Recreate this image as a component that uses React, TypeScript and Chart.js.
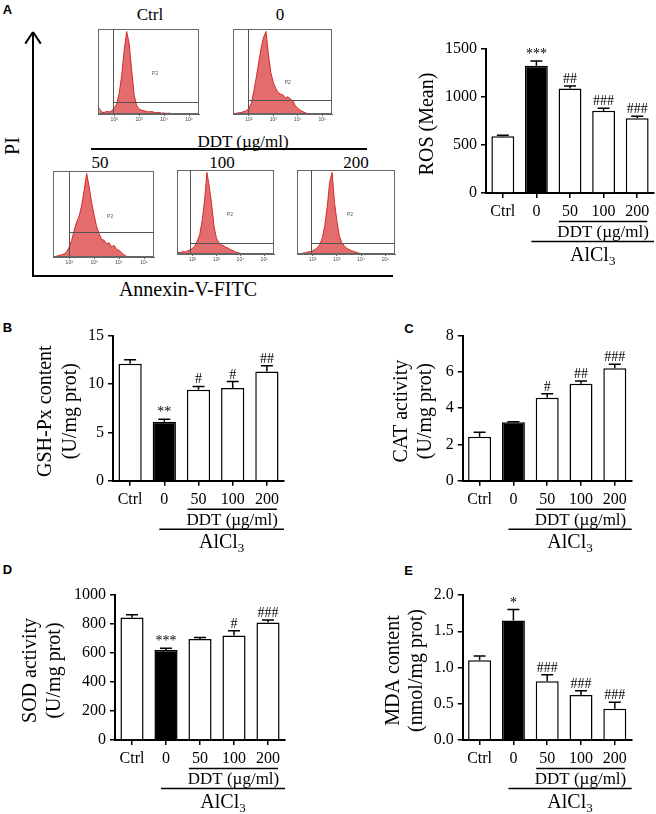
import React, { useEffect, useRef } from 'react';
import { Chart, registerables } from 'chart.js';
Chart.register(...registerables);

const SERIF = '"Liberation Serif", "Times New Roman", serif';
const SANS = '"Liberation Sans", Arial, sans-serif';
Chart.defaults.font.family = SERIF;
Chart.defaults.font.size = 16;
Chart.defaults.color = '#000';

// ---------- data ----------
const GROUPS = ['Ctrl', '0', '50', '100', '200'];
const BAR_FILLS = ['#ffffff', '#000000', '#ffffff', '#ffffff', '#ffffff'];

const ROS_MEAN = [590, 1325, 1088, 858, 778];
const ROS_SEM = [12, 50, 27, 24, 21];
const ROS_MARKS = ['', '***', '##', '###', '###'];

const GSH_MEAN = [12.1, 6.1, 9.4, 9.6, 11.3];
const GSH_SEM = [0.4, 0.25, 0.35, 0.65, 0.6];
const GSH_MARKS = ['', '**', '#', '#', '##'];

const CAT_MEAN = [2.43, 3.22, 4.58, 5.35, 6.2];
const CAT_SEM = [0.24, 0.03, 0.22, 0.15, 0.22];
const CAT_MARKS = ['', '', '#', '##', '###'];

const SOD_MEAN = [845, 620, 697, 720, 810];
const SOD_SEM = [18, 12, 10, 33, 18];
const SOD_MARKS = ['', '***', '', '#', '###'];

const MDA_MEAN = [1.1, 1.65, 0.81, 0.62, 0.43];
const MDA_SEM = [0.06, 0.15, 0.09, 0.06, 0.09];
const MDA_MARKS = ['', '*', '###', '###', '###'];

// flow cytometry histograms (log10 fluorescence bins, relative counts)
const HIST_LOG = [1.4, 1.5, 1.6, 1.7, 1.8, 1.9, 2.0, 2.1, 2.2, 2.3, 2.4, 2.5, 2.6, 2.7, 2.8, 2.9, 3.0, 3.1, 3.2, 3.3, 3.4, 3.5, 3.6, 3.7, 3.8, 3.9, 4.0, 4.1, 4.2, 4.3, 4.4, 4.5, 4.6];
const HIST_CTRL = [0.07, 0.02, 0.02, 0.03, 0.025, 0.04, 0.07, 0.12, 0.25, 0.47, 0.77, 1.0, 0.85, 0.53, 0.23, 0.1, 0.06, 0.045, 0.04, 0.03, 0.025, 0.03, 0.02, 0.015, 0.02, 0.01, 0.012, 0.008, 0.01, 0.005, 0.004, 0.002, 0];
const HIST_0 = [0, 0.01, 0.015, 0.02, 0.03, 0.04, 0.07, 0.13, 0.27, 0.44, 0.62, 0.8, 0.93, 1.0, 0.72, 0.5, 0.38, 0.31, 0.26, 0.24, 0.23, 0.19, 0.21, 0.18, 0.16, 0.1, 0.07, 0.045, 0.03, 0.015, 0.005, 0, 0];
const HIST_50 = [0, 0.01, 0.02, 0.025, 0.04, 0.06, 0.12, 0.2, 0.32, 0.42, 0.49, 0.62, 0.8, 1.0, 0.84, 0.65, 0.5, 0.36, 0.28, 0.21, 0.2, 0.16, 0.17, 0.12, 0.14, 0.09, 0.08, 0.05, 0.025, 0.008, 0, 0, 0];
const HIST_100 = [0.02, 0.015, 0.03, 0.025, 0.04, 0.05, 0.07, 0.1, 0.16, 0.24, 0.41, 0.65, 1.0, 0.82, 0.6, 0.33, 0.19, 0.14, 0.11, 0.1, 0.08, 0.07, 0.05, 0.04, 0.025, 0.015, 0.008, 0.003, 0, 0, 0, 0, 0];
const HIST_200 = [0, 0.005, 0.01, 0.015, 0.025, 0.03, 0.04, 0.055, 0.08, 0.12, 0.2, 0.35, 0.58, 0.88, 1.0, 0.63, 0.4, 0.22, 0.14, 0.1, 0.07, 0.055, 0.04, 0.03, 0.02, 0.012, 0.006, 0.002, 0, 0, 0, 0, 0];
const HIST_TICKS = [2, 3, 4, 5];
const HIST_TICK_LABELS = ['10²', '10³', '10⁴', '10⁵'];
const GATE_X = [1.97, 1.96, 2.0, 1.9, 1.92];
const GATE_Y = [0.15, 0.17, 0.3, 0.14, 0.14];
const P2_X = [3.64, 3.59, 3.64, 3.56, 3.54];
const P2_Y = [0.49, 0.38, 0.48, 0.48, 0.48];

// ---------- helpers ----------
type Box = { x: number; y: number; w: number; h: number };
type Area = { l: number; t: number; r: number; b: number };

function Label(props: { x: number; y: number; text: React.ReactNode; size: number; rotate?: boolean; bold?: boolean; sans?: boolean }) {
  const { x, y, text, size, rotate, bold, sans } = props;
  return (
    <div
      style={{
        position: 'absolute',
        left: x,
        top: y,
        transform: `translate(-50%,-50%)${rotate ? ' rotate(-90deg)' : ''}`,
        fontSize: size,
        lineHeight: 1,
        whiteSpace: 'nowrap',
        fontFamily: sans ? SANS : SERIF,
        fontWeight: bold ? 700 : 400,
        color: '#000',
      }}
    >
      {text}
    </div>
  );
}

function Line(props: { x: number; y: number; w: number; h: number; rot?: number }) {
  const { x, y, w, h, rot } = props;
  return (
    <div
      style={{
        position: 'absolute',
        left: x,
        top: y,
        width: w,
        height: h,
        background: '#000',
        transformOrigin: 'top center',
        transform: rot ? `rotate(${rot}deg)` : undefined,
      }}
    />
  );
}

type BarProps = {
  box: Box;
  area: Area;
  values: number[];
  errors: number[];
  marks: string[];
  yMax: number;
  yStep: number;
  decimals: number;
  titleLines: string[];
  titleOffsets: number[];
};

function BarPanel(p: BarProps) {
  const ref = useRef<HTMLCanvasElement | null>(null);
  useEffect(() => {
    if (!ref.current) return;
    const { box, area } = p;
    const decor = {
      id: 'decor',
      afterDatasetsDraw(chart: any) {
        const ctx = chart.ctx;
        const ys = chart.scales.y;
        const meta = chart.getDatasetMeta(0);
        ctx.save();
        ctx.strokeStyle = '#000';
        ctx.fillStyle = '#000';
        ctx.lineWidth = 1.5;
        p.values.forEach((v, i) => {
          const x = meta.data[i].x;
          const yb = ys.getPixelForValue(v);
          const yt = ys.getPixelForValue(v + p.errors[i]);
          ctx.beginPath();
          ctx.moveTo(x, yb);
          ctx.lineTo(x, yt);
          ctx.moveTo(x - 6, yt);
          ctx.lineTo(x + 6, yt);
          ctx.stroke();
          if (p.marks[i]) {
            ctx.font = `14px ${SERIF}`;
            ctx.textAlign = 'center';
            ctx.textBaseline = 'alphabetic';
            ctx.fillText(p.marks[i], x, yt - 3);
          }
        });
        ctx.restore();
      },
      afterDraw(chart: any) {
        const ctx = chart.ctx;
        const xs = chart.scales.x;
        const a = chart.chartArea;
        const c1 = xs.getPixelForValue(1);
        const c2 = xs.getPixelForValue(2);
        const c4 = xs.getPixelForValue(4);
        ctx.save();
        ctx.strokeStyle = '#000';
        ctx.fillStyle = '#000';
        ctx.lineWidth = 1.5;
        const dl = c2 - 11;
        const dr = c4 + 10;
        ctx.beginPath();
        ctx.moveTo(dl, a.bottom + 28.5);
        ctx.lineTo(dr, a.bottom + 28.5);
        ctx.stroke();
        ctx.font = `17px ${SERIF}`;
        ctx.textAlign = 'center';
        ctx.textBaseline = 'middle';
        ctx.fillText('DDT (µg/ml)', (dl + dr) / 2, a.bottom + 40);
        const al = c1 - 5;
        const ar = a.right;
        ctx.beginPath();
        ctx.moveTo(al, a.bottom + 48.5);
        ctx.lineTo(ar, a.bottom + 48.5);
        ctx.stroke();
        ctx.font = `20px ${SERIF}`;
        const w1 = ctx.measureText('AlCl').width;
        ctx.font = `13px ${SERIF}`;
        const w2 = ctx.measureText('3').width;
        const sx = (al + ar) / 2 - (w1 + w2) / 2;
        ctx.textAlign = 'left';
        ctx.textBaseline = 'alphabetic';
        ctx.font = `20px ${SERIF}`;
        ctx.fillText('AlCl', sx, a.bottom + 61 + 6.6);
        ctx.font = `13px ${SERIF}`;
        ctx.fillText('3', sx + w1, a.bottom + 61 + 10.6);
        ctx.font = `20px ${SERIF}`;
        ctx.textAlign = 'center';
        ctx.textBaseline = 'middle';
        const cy = (a.top + a.bottom) / 2 + 3;
        p.titleLines.forEach((t, k) => {
          ctx.save();
          ctx.translate(a.left + p.titleOffsets[k], cy);
          ctx.rotate(-Math.PI / 2);
          ctx.fillText(t, 0, 0);
          ctx.restore();
        });
        ctx.restore();
      },
    };
    const chart = new Chart(ref.current, {
      type: 'bar',
      data: {
        labels: GROUPS,
        datasets: [
          {
            data: p.values,
            backgroundColor: BAR_FILLS,
            borderColor: '#000',
            borderWidth: 1.5,
            categoryPercentage: 0.8,
            barPercentage: 0.85,
          },
        ],
      },
      options: {
        animation: false,
        responsive: false,
        maintainAspectRatio: false,
        layout: { padding: { top: area.t - box.y, right: box.x + box.w - area.r, left: 0, bottom: 0 } },
        plugins: { legend: { display: false }, tooltip: { enabled: false } },
        scales: {
          x: {
            type: 'category',
            afterFit: (s: any) => {
              s.height = box.y + box.h - area.b;
            },
            grid: { display: true, drawOnChartArea: false, drawTicks: true, tickLength: 5, offset: false, color: '#000', lineWidth: 1.5 },
            border: { display: true, color: '#000', width: 2 },
            ticks: { color: '#000', font: { family: SERIF, size: 16 }, padding: 4, maxRotation: 0, autoSkip: false },
          },
          y: {
            min: 0,
            max: p.yMax,
            afterFit: (s: any) => {
              s.width = area.l - box.x;
            },
            grid: { display: true, drawOnChartArea: false, drawTicks: true, tickLength: 5, color: '#000', lineWidth: 1.5 },
            border: { display: true, color: '#000', width: 2 },
            ticks: {
              stepSize: p.yStep,
              color: '#000',
              font: { family: SERIF, size: 16 },
              padding: 4,
              callback: (v: any) => Number(v).toFixed(p.decimals),
            },
          },
        },
      },
      plugins: [decor],
    } as any);
    return () => chart.destroy();
  }, []);
  return (
    <canvas
      ref={ref}
      width={p.box.w}
      height={p.box.h}
      style={{ position: 'absolute', left: p.box.x, top: p.box.y, width: p.box.w, height: p.box.h }}
    />
  );
}

type HistProps = { box: Box; area: Area; values: number[]; idx: number };

function HistPanel(p: HistProps) {
  const ref = useRef<HTMLCanvasElement | null>(null);
  useEffect(() => {
    if (!ref.current) return;
    const { box, area, idx } = p;
    const frame = {
      id: 'frame',
      afterDraw(chart: any) {
        const ctx = chart.ctx;
        const a = chart.chartArea;
        const xs = chart.scales.x;
        const ys = chart.scales.y;
        ctx.save();
        ctx.strokeStyle = '#666';
        ctx.lineWidth = 1;
        ctx.strokeRect(a.left + 0.5, a.top + 0.5, a.right - a.left - 1, a.bottom - a.top - 1);
        ctx.strokeStyle = '#555';
        const gx = Math.round(xs.getPixelForValue(GATE_X[idx])) + 0.5;
        const gy = Math.round(ys.getPixelForValue(GATE_Y[idx])) + 0.5;
        ctx.beginPath();
        ctx.moveTo(gx, a.top);
        ctx.lineTo(gx, a.bottom);
        ctx.moveTo(gx, gy);
        ctx.lineTo(a.right, gy);
        ctx.stroke();
        ctx.fillStyle = '#555';
        ctx.font = `5px ${SANS}`;
        ctx.textAlign = 'center';
        ctx.textBaseline = 'middle';
        ctx.fillText('P2', xs.getPixelForValue(P2_X[idx]), ys.getPixelForValue(P2_Y[idx]));
        ctx.restore();
      },
    };
    const chart = new Chart(ref.current, {
      type: 'line',
      data: {
        datasets: [
          {
            data: HIST_LOG.map((x, i) => ({ x, y: p.values[i] })),
            fill: 'origin',
            backgroundColor: 'rgba(224, 92, 92, 0.9)',
            borderColor: '#d42828',
            borderWidth: 1,
            pointRadius: 0,
            tension: 0,
          },
        ],
      },
      options: {
        animation: false,
        responsive: false,
        maintainAspectRatio: false,
        layout: { padding: { top: area.t - box.y, right: box.x + box.w - area.r, left: 0, bottom: 0 } },
        plugins: { legend: { display: false }, tooltip: { enabled: false } },
        scales: {
          x: {
            type: 'linear',
            min: 1.35,
            max: 5.4,
            afterFit: (s: any) => {
              s.height = box.y + box.h - area.b;
            },
            afterBuildTicks: (s: any) => {
              s.ticks = HIST_TICKS.map((v) => ({ value: v }));
            },
            grid: { display: true, drawOnChartArea: false, tickLength: 2, color: '#666' },
            border: { display: true, color: '#666', width: 1 },
            ticks: {
              color: '#444',
              font: { family: SANS, size: 5 },
              padding: 1,
              maxRotation: 0,
              autoSkip: false,
              callback: (v: any, i: number) => HIST_TICK_LABELS[i],
            },
          },
          y: {
            min: 0,
            max: 1.03,
            afterFit: (s: any) => {
              s.width = area.l - box.x;
            },
            grid: { display: false },
            border: { display: true, color: '#666', width: 1 },
            ticks: { display: false },
          },
        },
      },
      plugins: [frame],
    } as any);
    return () => chart.destroy();
  }, []);
  return (
    <canvas
      ref={ref}
      width={p.box.w}
      height={p.box.h}
      style={{ position: 'absolute', left: p.box.x, top: p.box.y, width: p.box.w, height: p.box.h }}
    />
  );
}

export default function App() {
  return (
    <div
      style={{
        position: 'absolute',
        left: 0,
        top: 0,
        width: 656,
        height: 814,
        background: '#fff',
        overflow: 'hidden',
        fontFamily: SERIF,
      }}
    >
      {/* panel letters */}
      <Label x={7.5} y={8.5} text="A" size={13} bold sans />
      <Label x={7.5} y={327} text="B" size={13} bold sans />
      <Label x={409} y={328} text="C" size={13} bold sans />
      <Label x={7.5} y={569} text="D" size={13} bold sans />
      <Label x={408.5} y={569.5} text="E" size={13} bold sans />

      {/* panel A flow cytometry */}
      <Line x={32} y={32} w={2} h={245} />
      <Line x={32} y={32} w={2} h={13.6} rot={33.6} />
      <Line x={32} y={32} w={2} h={13.6} rot={-33.6} />
      <Line x={32} y={275} w={361} h={2} />
      <Label x={12} y={146} text="PI" size={20} rotate />
      <Label x={188} y={289} text="Annexin-V-FITC" size={20} />
      <Label x={150} y={14} text={GROUPS[0]} size={17} />
      <Label x={280} y={14} text={GROUPS[1]} size={17} />
      <Label x={243} y={141} text="DDT (µg/ml)" size={17} />
      <Line x={91} y={147.5} w={276} h={2} />
      <Label x={100} y={162} text={GROUPS[2]} size={17} />
      <Label x={222} y={162} text={GROUPS[3]} size={17} />
      <Label x={356} y={162} text={GROUPS[4]} size={17} />

      <HistPanel idx={0} values={HIST_CTRL} box={{ x: 86, y: 26, w: 118, h: 98 }} area={{ l: 98, t: 29, r: 199, b: 114 }} />
      <HistPanel idx={1} values={HIST_0} box={{ x: 221, y: 26, w: 116, h: 98 }} area={{ l: 233, t: 29, r: 332, b: 114 }} />
      <HistPanel idx={2} values={HIST_50} box={{ x: 41, y: 168, w: 118, h: 99 }} area={{ l: 53, t: 171, r: 154, b: 257 }} />
      <HistPanel idx={3} values={HIST_100} box={{ x: 165, y: 167, w: 114, h: 97 }} area={{ l: 177, t: 170, r: 274, b: 254 }} />
      <HistPanel idx={4} values={HIST_200} box={{ x: 285, y: 167, w: 115, h: 97 }} area={{ l: 297, t: 170, r: 395, b: 254 }} />

      <BarPanel
        box={{ x: 400, y: 20, w: 256, h: 262 }}
        area={{ l: 486, t: 49, r: 654, b: 193 }}
        values={ROS_MEAN}
        errors={ROS_SEM}
        marks={ROS_MARKS}
        yMax={1500}
        yStep={500}
        decimals={0}
        titleLines={['ROS (Mean)']}
        titleOffsets={[-58]}
      />
      <BarPanel
        box={{ x: 0, y: 300, w: 330, h: 258 }}
        area={{ l: 113, t: 335.7, r: 284, b: 480.7 }}
        values={GSH_MEAN}
        errors={GSH_SEM}
        marks={GSH_MARKS}
        yMax={15}
        yStep={5}
        decimals={0}
        titleLines={['GSH-Px content', '(U/mg prot)']}
        titleOffsets={[-67, -42]}
      />
      <BarPanel
        box={{ x: 330, y: 300, w: 326, h: 258 }}
        area={{ l: 462.7, t: 335.7, r: 631.7, b: 480.7 }}
        values={CAT_MEAN}
        errors={CAT_SEM}
        marks={CAT_MARKS}
        yMax={8}
        yStep={2}
        decimals={0}
        titleLines={['CAT activity', '(U/mg prot)']}
        titleOffsets={[-61, -37]}
      />
      <BarPanel
        box={{ x: 0, y: 560, w: 330, h: 254 }}
        area={{ l: 115, t: 595, r: 285, b: 740 }}
        values={SOD_MEAN}
        errors={SOD_SEM}
        marks={SOD_MARKS}
        yMax={1000}
        yStep={200}
        decimals={0}
        titleLines={['SOD activity', '(U/mg prot)']}
        titleOffsets={[-84, -60]}
      />
      <BarPanel
        box={{ x: 330, y: 560, w: 326, h: 254 }}
        area={{ l: 462.7, t: 595, r: 631.7, b: 740 }}
        values={MDA_MEAN}
        errors={MDA_SEM}
        marks={MDA_MARKS}
        yMax={2}
        yStep={0.5}
        decimals={1}
        titleLines={['MDA content', '(nmol/mg prot)']}
        titleOffsets={[-69, -46]}
      />
    </div>
  );
}
